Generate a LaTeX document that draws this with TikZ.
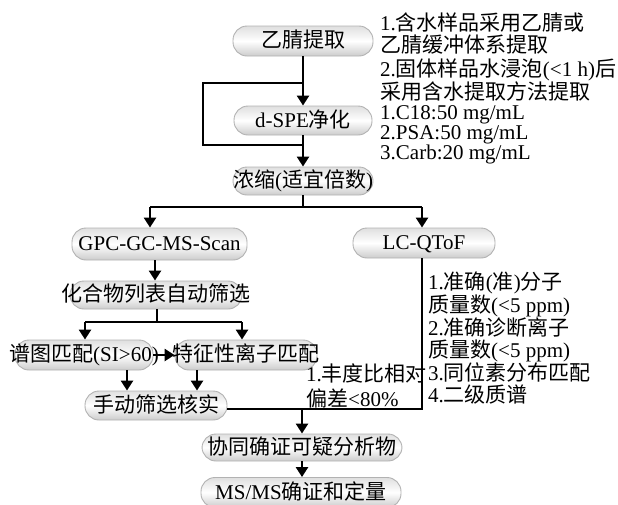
\documentclass[tikz,border=0pt]{standalone}
\usepackage{fontspec}
\setmainfont{Liberation Serif}
\newfontfamily\cjkfont{Noto Sans CJK SC}
\newcommand\zhs[1]{{\cjkfont #1}}
\newcommand\ctrbox[1]{\makebox[0pt]{#1}}
\usetikzlibrary{arrows.meta}
\begin{document}
\begin{tikzpicture}[x=1pt,y=-1pt,
 pill/.style={rectangle, rounded corners=14pt, draw=gray!60, line width=0.9pt,
   top color=gray!25, bottom color=gray!40, middle color=white,
   inner sep=0pt, minimum height=30pt, text height=16pt, text depth=3pt,
   font=\fontsize{21}{21}\selectfont},
 conn/.style={line width=2.8pt, line join=miter},
 arr/.style={conn, -{Triangle[width=12pt,length=10pt]}},
 note/.style={align=left, inner sep=0pt, anchor=west}
]
\useasboundingbox (0,0) rectangle (618,504);
% nodes
\node[pill, minimum width=140pt] (n1) at (303,41) {\ctrbox{\zhs{乙腈提取}}};
\node[pill, minimum width=138pt, minimum height=29pt] (n2) at (303,120.5) {\ctrbox{d-SPE\zhs{净化}}};
\node[pill, minimum width=140pt, minimum height=28pt] (n3) at (303,181) {\ctrbox{\zhs{浓缩}(\zhs{适宜倍数})}};
\node[pill, minimum width=175pt, minimum height=32pt] (n4) at (159.5,244) {\ctrbox{GPC-GC-MS-Scan}};
\node[pill, minimum width=142pt] (n5) at (424,243) {\ctrbox{LC-QToF}};
\node[pill, minimum width=172pt, minimum height=28pt] (n6) at (156,295) {\ctrbox{\zhs{化合物列表自动筛选}}};
\node[pill, minimum width=138pt] (n7) at (84,355) {\ctrbox{\zhs{谱图匹配}(SI>60)}};
\node[pill, minimum width=142pt] (n8) at (246,355) {\ctrbox{\zhs{特征性离子匹配}}};
\node[pill, minimum width=142pt, minimum height=29pt] (n9) at (156,405.5) {\ctrbox{\zhs{手动筛选核实}}};
\node[pill, minimum width=200pt, minimum height=27pt] (n10) at (302,447.5) {\ctrbox{\zhs{协同确证可疑分析物}}};
\node[pill, minimum width=200pt] (n11) at (301,492.5) {\ctrbox{MS/MS\zhs{确证和定量}}};
% notes
\node[note, font=\fontsize{21}{22}\selectfont] (t1) at (380,34) {1.\zhs{含水样品采用乙腈或}\\\zhs{乙腈缓冲体系提取}};
\node[note, font=\fontsize{21}{20}\selectfont] (t2) at (380,80) {2.\zhs{固体样品水浸泡}(<1 h)\zhs{后}\\\zhs{采用含水提取方法提取}};
\node[note, font=\fontsize{21}{20}\selectfont] (t3) at (380,135) {1.C18:50 mg/mL\\2.PSA:50 mg/mL\\3.Carb:20 mg/mL};
\node[note, font=\fontsize{21}{22.6}\selectfont] (t4) at (428,338.5) {1.\zhs{准确}(\zhs{准})\zhs{分子}\\\zhs{质量数}(<5 ppm)\\2.\zhs{准确诊断离子}\\\zhs{质量数}(<5 ppm)\\3.\zhs{同位素分布匹配}\\4.\zhs{二级质谱}};
\node[note, font=\fontsize{21}{25}\selectfont] (t5) at (306,385.5) {1.\zhs{丰度比相对}\\\zhs{偏差}<80\%};
% coordinates
\coordinate (b1) at (303,83);
\coordinate (b2) at (203,83);
\coordinate (b3) at (203,145);
\coordinate (b4) at (303,145);
\coordinate (s1) at (303,207);
\coordinate (L1) at (150,207);
\coordinate (R1) at (422,207);
\coordinate (a4) at (155,270);
\coordinate (s2) at (157,322);
\coordinate (L2) at (85,322);
\coordinate (R2) at (242,322);
\coordinate (d1) at (127,380);
\coordinate (d2) at (197,380);
\coordinate (c5) at (422,409);
\coordinate (j) at (302,409);
% connectors
\draw[arr] (n1) -- (n2);
\draw[conn] (b1) -- (b2) -- (b3) -- (b4);
\draw[arr] (n2) -- (n3);
\draw[conn] (n3.south) -- (s1);
\draw[conn] (L1) -- (R1);
\draw[arr] (L1) -- (L1 |- n4.north);
\draw[arr] (R1) -- (R1 |- n5.north);
\draw[arr] (n4.south -| a4) -- (n6.north -| a4);
\draw[conn] (n6.south -| s2) -- (s2);
\draw[conn] (L2) -- (R2);
\draw[arr] (L2) -- (L2 |- n7.north);
\draw[arr] (R2) -- (R2 |- n8.north);
\draw[arr] (n7) -- (n8);
\draw[arr] (n7.south -| d1) -- (n9.north -| d1);
\draw[arr] (n8.south -| d2) -- (n9.north -| d2);
\draw[conn] (n5.south -| c5) -- (c5) -- (n9.east |- c5);
\draw[arr] (j) -- (n10.north -| j);
\draw[arr] (n10.south -| j) -- (n11.north -| j);
\end{tikzpicture}
\end{document}
